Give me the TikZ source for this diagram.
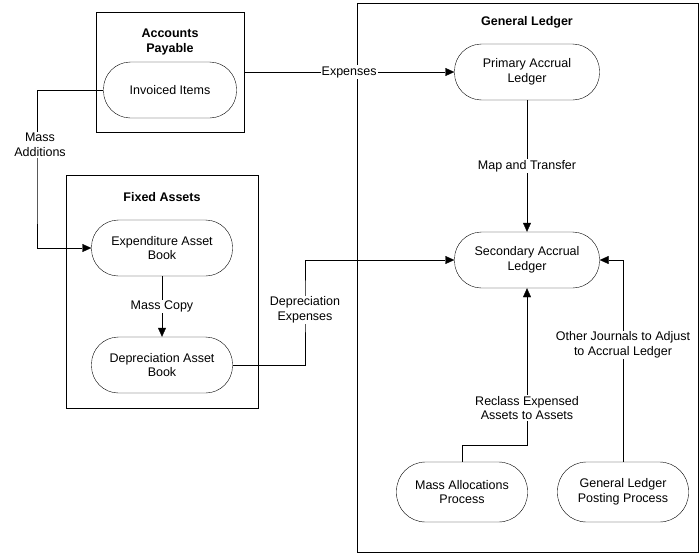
\documentclass[tikz,border=0pt]{standalone}
\usepackage{fontspec}
\setmainfont{Liberation Sans}
\usetikzlibrary{positioning,arrows.meta}
\begin{document}
\begin{tikzpicture}[x=1pt,y=-1pt,font=\fontsize{12.5}{14.5}\selectfont,
  proc/.style={draw,rounded corners=27pt,minimum width=141pt,minimum height=56pt,align=center,fill=white},
  ttl/.style={font=\fontsize{12.5}{14.5}\selectfont\bfseries,align=center},
  lbl/.style={fill=white,align=center,inner sep=1pt},
  arr/.style={-{Triangle[length=9pt,width=8pt]}}]
\useasboundingbox (0,0) rectangle (700,554);

% group boxes
\draw (96,12) rectangle (244,132);
\draw (66,175) rectangle (258,408);
\draw (357,3) rectangle (698,552);
\node[ttl] (apT) at (170,42) {Accounts\\Payable};
\node[ttl] (faT) at (162,197) {Fixed Assets};
\node[ttl] (glT) at (527,22) {General Ledger};
\coordinate (apE) at (244,72);

% processes
\node[proc,minimum width=133pt] (inv) at (170,90) {Invoiced Items};
\node[proc] (exp) at (162,248) {Expenditure Asset\\Book};
\node[proc] (dep) at (162,365) {Depreciation Asset\\Book};
\node[proc,minimum width=145pt] (pri) at (527,72) {Primary Accrual\\Ledger};
\node[proc,minimum width=145pt] (sec) at (527,260) {Secondary Accrual\\Ledger};
\node[proc,minimum width=131pt,minimum height=60pt,rounded corners=29pt] (mass) at (462,492) {Mass Allocations\\Process};
\node[proc,minimum width=131pt,minimum height=60pt,rounded corners=29pt] (post) at (623,492) {General Ledger\\Posting Process};

% connectors
\draw[arr] (inv.west) -| (37,200) |- (exp.west);
\node[lbl] at (40,145) {Mass\\Additions};
\draw[arr] (apE) -- node[lbl] {Expenses} (pri.west |- apE);
\draw[arr] (pri) -- node[lbl] {Map and Transfer} (sec);
\draw[arr] (exp) -- node[lbl] {Mass Copy} (dep);
\draw[arr] (dep.east) -| (305,300) |- (sec.west);
\node[lbl] at (305,310) {Depreciation\\Expenses};
\draw[arr] (mass.north) |- (527,445) -- (sec.south);
\node[lbl] at (527,408) {Reclass Expensed\\Assets to Assets};
\draw[arr] (post.north) |- (sec.east);
\node[lbl] at (623,345) {Other Journals to Adjust\\to Accrual Ledger};
\end{tikzpicture}
\end{document}
